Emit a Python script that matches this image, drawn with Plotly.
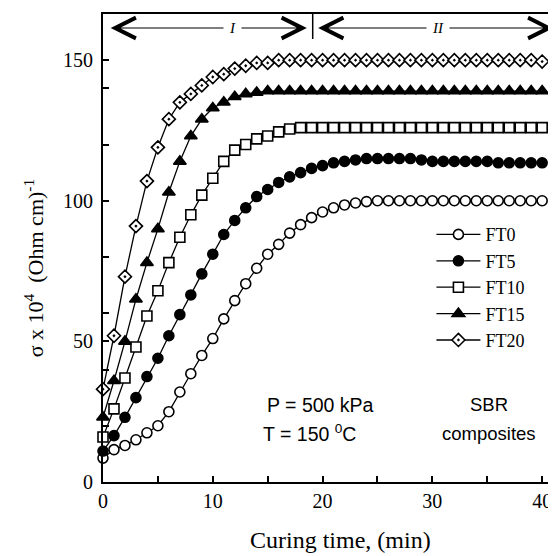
import plotly.graph_objects as go

# ---- data ----
time_min = list(range(0, 41))

ft0 = [8.5, 11.5, 13, 15, 17.5, 20, 25, 32, 38.5, 45, 51, 58, 64.5, 70.5, 76, 81,
       84.5, 88.5, 91.5, 94, 96, 97.5, 98.5, 99.2, 99.7, 100, 100, 100, 100, 100,
       100, 100, 100, 100, 100, 100, 100, 100, 100, 100, 100]
ft5 = [11, 16.5, 23, 30, 37.5, 44, 52, 59.5, 66.5, 74, 81, 88, 93, 97.5, 101.5, 104,
       106.5, 108.5, 110, 111.5, 112.5, 113.5, 114, 114.5, 115, 115, 115, 115, 115, 114.5,
       114, 114, 114, 114, 114, 114, 113.5, 113.5, 113.5, 113.5, 113.5]
ft10 = [16, 26, 37, 48, 59, 68, 78, 87, 95, 102, 108, 114, 118, 120, 122, 123,
        124.5, 125.5, 126, 126, 126, 126, 126, 126, 126, 126, 126, 126, 126, 126,
        126, 126, 126, 126, 126, 126, 126, 126, 126, 126, 126]
ft15 = [23, 36, 50, 65, 78, 90, 103, 114, 123, 129, 133, 135, 137, 138, 138.5, 139,
        139, 139, 139, 139, 139, 139, 139, 139, 139, 139, 139, 139, 139, 139,
        139, 139, 139, 139, 139, 139, 139, 139, 139, 139, 139]
ft20 = [33, 52, 73, 91, 107, 119, 129, 135, 138, 141, 144, 145, 147, 148, 149, 149,
        150, 150, 150, 150, 150, 150, 150, 150, 150, 150, 150, 150, 150, 150,
        150, 150, 150, 150, 150, 150, 150, 150, 150, 150, 149.5]

series_names = ["FT0", "FT5", "FT10", "FT15", "FT20"]
series_values = [ft0, ft5, ft10, ft15, ft20]
series_symbols = ["circle", "circle", "square", "triangle-up", "diamond-dot"]
series_fill = ["white", "black", "white", "black", "white"]
series_sizes = [10, 10, 10, 11, 10]

x_tick_vals = [0, 10, 20, 30, 40]
y_tick_vals = [0, 50, 100, 150]
stage_boundary = 19.1

x_title = "Curing time, (min)"
y_title = "σ x 10<sup>4</sup>  (Ohm cm)<sup>-1</sup>"

SERIF = "Liberation Serif"
SANS = "Liberation Sans"

fig = go.Figure()
for name, vals, sym, fillc, sz in zip(series_names, series_values, series_symbols,
                                      series_fill, series_sizes):
    fig.add_trace(go.Scatter(
        x=time_min, y=vals, name=name, mode="lines+markers",
        line=dict(color="black", width=1.3),
        marker=dict(symbol=sym, size=sz, color=fillc,
                    line=dict(color="black", width=1.6)),
        cliponaxis=False,
    ))

# stage arrows
arrow_y = 161.4
for x_tip, x_tail in [(0.7, 18.7), (19.6, 41.15)]:
    fig.add_annotation(x=x_tip, y=arrow_y, ax=x_tail, ay=arrow_y, xref="x", yref="y",
                       axref="x", ayref="y", showarrow=True, arrowhead=5,
                       startarrowhead=5, arrowside="end+start", arrowsize=3.7,
                       startarrowsize=3.7, arrowwidth=1.1, arrowcolor="black", text="")
fig.add_shape(type="line", x0=stage_boundary, x1=stage_boundary, y0=157.5, y1=166.4,
              xref="x", yref="y", line=dict(color="black", width=1.5))
fig.add_annotation(x=11.75, y=arrow_y, text="<i>I</i>", showarrow=False,
                   font=dict(family=SERIF, size=15, color="black"),
                   bgcolor="white", borderpad=5)
fig.add_annotation(x=30.5, y=arrow_y, text="<i>II</i>", showarrow=False,
                   font=dict(family=SERIF, size=15, color="black"),
                   bgcolor="white", borderpad=5)

# condition texts
fig.add_annotation(x=19.8, y=27.4, text="P = 500 kPa", showarrow=False,
                   font=dict(family=SANS, size=19.5, color="black"))
fig.add_annotation(x=14.4, y=17.4, text="T = 150 <sup>0</sup>C", showarrow=False,
                   xanchor="left", font=dict(family=SANS, size=19.5, color="black"))
fig.add_annotation(x=35.2, y=27.4, text="SBR", showarrow=False,
                   font=dict(family=SANS, size=18.5, color="black"))
fig.add_annotation(x=35.2, y=17.4, text="composites", showarrow=False,
                   font=dict(family=SANS, size=18.5, color="black"))

# axis titles
fig.add_annotation(x=0.525, y=-0.124, xref="paper", yref="paper", text=x_title,
                   showarrow=False, xanchor="center", yanchor="middle",
                   font=dict(family=SERIF, size=24, color="black"))
fig.add_annotation(x=-0.152, y=0.457, xref="paper", yref="paper", text=y_title,
                   showarrow=False, xanchor="center", yanchor="middle", textangle=-90,
                   font=dict(family=SERIF, size=22, color="black"))

fig.update_layout(
    width=548, height=548,
    margin=dict(l=95, r=0, t=6, b=74),
    paper_bgcolor="white", plot_bgcolor="white",
    font=dict(family=SERIF, size=20, color="black"),
    showlegend=True,
    legend=dict(x=0.725, y=0.568, xanchor="left", yanchor="top",
                bgcolor="rgba(0,0,0,0)", font=dict(family=SERIF, size=18),
                itemwidth=44, tracegroupgap=0),
    xaxis=dict(range=[0, 41.26], tickvals=x_tick_vals, showgrid=False, zeroline=False,
               showline=True, linecolor="black", linewidth=2, mirror=True,
               ticks="inside", ticklen=6, tickwidth=1.5, tickcolor="black",
               minor=dict(dtick=5, tick0=0, ticks="inside", ticklen=6, tickwidth=1.5,
                          tickcolor="black")),
    yaxis=dict(range=[0, 166.4], tickvals=y_tick_vals, showgrid=False, zeroline=False,
               showline=True, linecolor="black", linewidth=2,
               ticks="inside", ticklen=6, tickwidth=1.5, tickcolor="black",
               ticklabelstandoff=4,
               minor=dict(tickvals=[20, 40, 60, 80, 120, 140], ticks="inside",
                          ticklen=6, tickwidth=1.5, tickcolor="black")),
)

fig.write_html("out.html")
